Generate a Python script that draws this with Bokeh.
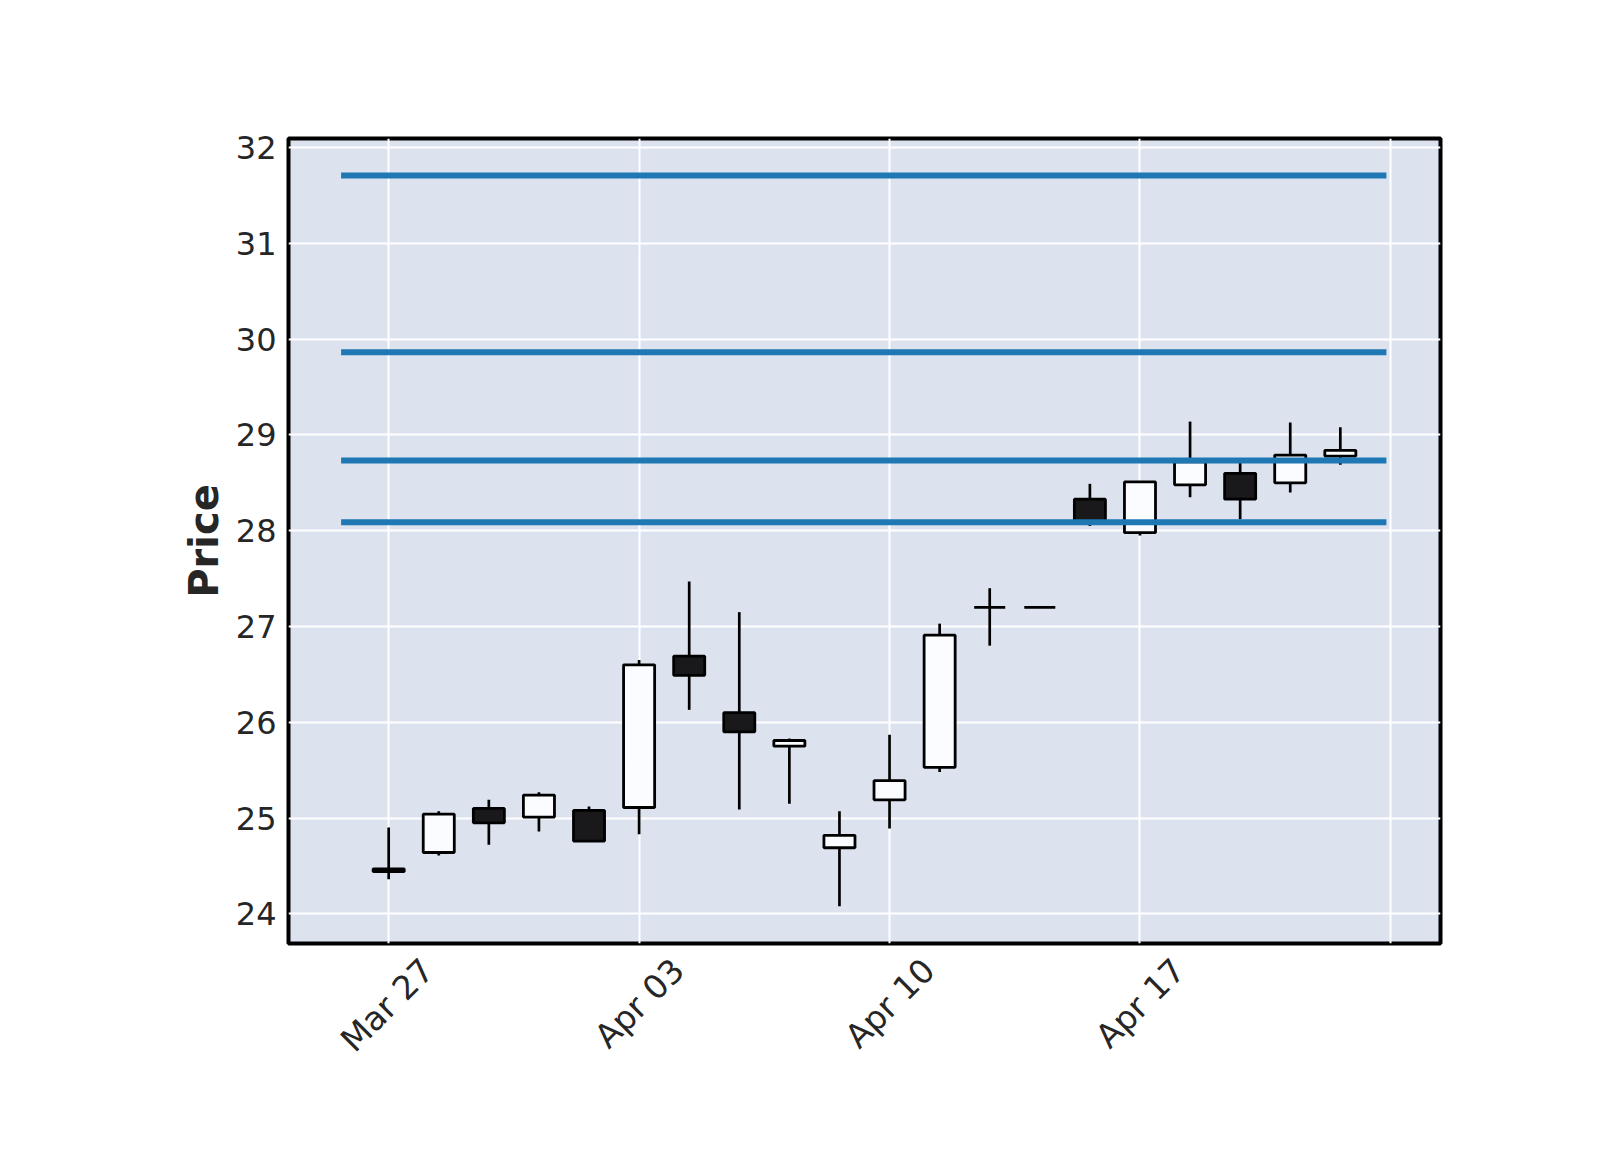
import math
from bokeh.plotting import figure
from bokeh.models import Range1d, FixedTicker, ColumnDataSource, CustomJSTickFormatter
from bokeh.embed import file_html
from bokeh.resources import INLINE

dates = ["Mar 27", "Mar 28", "Mar 29", "Mar 30", "Mar 31",
         "Apr 03", "Apr 04", "Apr 05", "Apr 06", "Apr 07",
         "Apr 10", "Apr 11", "Apr 12", "Apr 13", "Apr 14",
         "Apr 17", "Apr 18", "Apr 19", "Apr 20", "Apr 21"]
opens  = [24.44, 24.64, 25.10, 25.01, 25.08, 25.11, 26.69, 26.10, 25.75, 24.69,
          25.19, 25.53, 27.20, 27.20, 28.33, 27.98, 28.48, 28.60, 28.50, 28.78]
highs  = [24.90, 25.07, 25.19, 25.27, 25.12, 26.65, 27.47, 27.15, 25.83, 25.07,
          25.87, 27.03, 27.40, 27.20, 28.49, 28.51, 29.14, 28.71, 29.13, 29.08]
lows   = [24.36, 24.61, 24.72, 24.86, 24.76, 24.83, 26.13, 25.09, 25.15, 24.08,
          24.89, 25.48, 26.80, 27.20, 28.05, 27.95, 28.35, 28.12, 28.40, 28.69]
closes = [24.47, 25.04, 24.95, 25.24, 24.76, 26.60, 26.49, 25.90, 25.81, 24.82,
          25.39, 26.91, 27.20, 27.20, 28.08, 28.51, 28.72, 28.33, 28.79, 28.84]
hline_values = [31.71, 29.865, 28.733, 28.089]
y_ticks = [24, 25, 26, 27, 28, 29, 30, 31, 32]
x_tick_idx = [0, 5, 10, 15, 20]

BG = "#DCE3EF"
UP = "#FAFCFF"
DOWN = "#19191B"

idx = list(range(len(dates)))
colors = [UP if c >= o else DOWN for o, c in zip(opens, closes)]
src = ColumnDataSource(dict(
    x=idx, o=opens, h=highs, l=lows, c=closes,
    top=[max(o, c) for o, c in zip(opens, closes)],
    bot=[min(o, c) for o, c in zip(opens, closes)],
    color=colors,
))
wick = ColumnDataSource(dict(
    x=[i for i in idx if highs[i] != lows[i]],
    h=[highs[i] for i in idx if highs[i] != lows[i]],
    l=[lows[i] for i in idx if highs[i] != lows[i]],
))

p = figure(width=1584, height=1134, output_backend="svg", toolbar_location=None,
           x_range=Range1d(-2.0, 21.0), y_range=Range1d(23.69, 32.096),
           min_border_left=288, min_border_right=144,
           min_border_top=138, min_border_bottom=191)

p.background_fill_color = BG
p.border_fill_color = "white"
p.outline_line_color = "black"
p.outline_line_width = 4

p.xgrid.ticker = FixedTicker(ticks=x_tick_idx)
p.ygrid.ticker = FixedTicker(ticks=y_ticks)
for g in (p.xgrid, p.ygrid):
    g.grid_line_color = "white"
    g.grid_line_width = 2

p.segment(x0="x", y0="l", x1="x", y1="h", source=wick, line_color="black", line_width=2.7)
p.vbar(x="x", width=0.62, top="top", bottom="bot", source=src,
       fill_color="color", line_color="black", line_width=2.8)

lx0 = -0.95
lx1 = len(dates) - 1 + 0.92
p.segment(x0=[lx0] * len(hline_values), x1=[lx1] * len(hline_values),
          y0=hline_values, y1=hline_values, line_color="#1f77b4", line_width=6)

# label anchors shifted so the rotated labels sit centred under their gridlines
label_shift = 0.78
p.xaxis.ticker = FixedTicker(ticks=[i + label_shift for i in x_tick_idx])
p.xaxis.formatter = CustomJSTickFormatter(args=dict(labels=dates, shift=label_shift), code="""
    const i = Math.round(tick - shift);
    return (i >= 0 && i < labels.length) ? labels[i] : "";
""")
p.xaxis.major_label_orientation = math.pi / 4
p.yaxis.ticker = FixedTicker(ticks=y_ticks)

for ax in (p.xaxis[0], p.yaxis[0]):
    ax.axis_line_color = None
    ax.major_tick_line_color = None
    ax.minor_tick_line_color = None
    ax.major_label_text_font = "DejaVu Sans"
    ax.major_label_text_color = "#262626"
p.yaxis.major_label_text_font_size = "32px"
p.xaxis.major_label_text_font_size = "33px"
p.yaxis.major_label_standoff = 6
p.xaxis.major_label_standoff = 15

p.yaxis.axis_label = "Price"
p.yaxis.axis_label_text_font = "DejaVu Sans"
p.yaxis.axis_label_text_font_style = "bold"
p.yaxis.axis_label_text_font_size = "40px"
p.yaxis.axis_label_text_color = "#262626"
p.yaxis.axis_label_standoff = 6

open("out.html", "w").write(file_html(p, INLINE))
